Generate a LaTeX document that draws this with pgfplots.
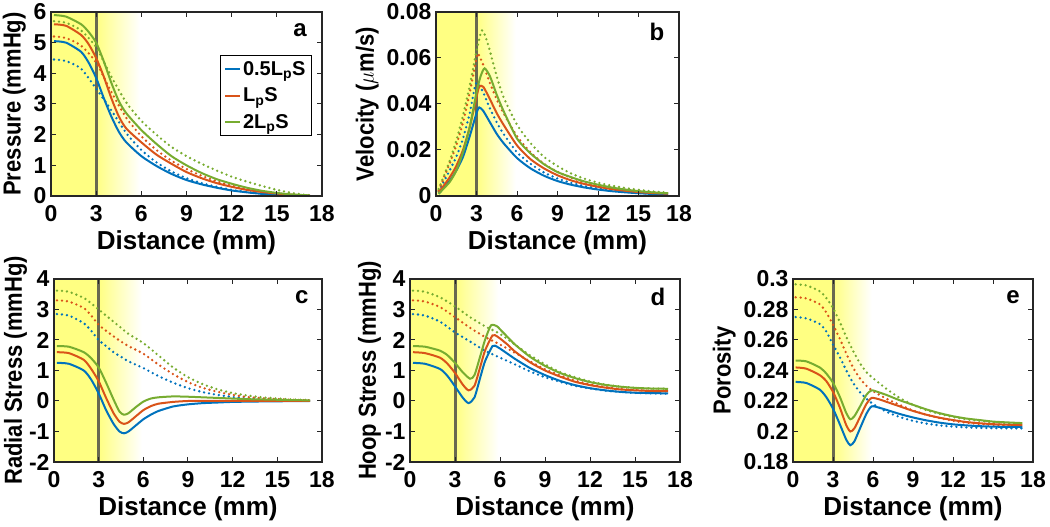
\documentclass[border=0pt]{standalone}
\usepackage{fontspec}
\setmainfont{Liberation Sans}
\usepackage{graphicx}
\usepackage{pgfplots}
\pgfplotsset{compat=1.18}
\definecolor{mblue}{rgb}{0,0.447,0.741}
\definecolor{mred}{rgb}{0.85,0.325,0.098}
\definecolor{mgreen}{rgb}{0.466,0.674,0.188}
\definecolor{yel}{RGB}{255,255,130}
\definecolor{vline}{RGB}{105,105,80}
\newcommand{\yl}[1]{\scalebox{1}[1.12]{#1}}
\pgfplotsset{
  base/.style={
    scale only axis, axis on top,
    xmin=0,xmax=18, xtick={0,3,...,18},
    tick label style={font=\bfseries\fontsize{23}{23}\selectfont},
    xlabel style={font=\bfseries\fontsize{26}{26}\selectfont, yshift=-2pt},
    ylabel style={font=\bfseries\fontsize{22}{22}\selectfont, yshift=1pt},
    /pgf/number format/assume math mode=true,
    xlabel={Distance (mm)},
    axis line style={line width=1.2pt, black!85},
    major tick length=5pt,
    every tick/.style={black!85, line width=1pt},
    xticklabel style={yshift=-6pt},
    yticklabel style={xshift=-1pt},
    clip=true,
  },
  sol/.style={line width=2pt, smooth, tension=0.4},
  dot/.style={line width=2.6pt, line cap=round, dash pattern=on 0pt off 5pt, smooth, tension=0.4, forget plot},
}
\newcommand{\bg}[2]{%
  \fill[yel] (axis cs:0,#1) rectangle (axis cs:3,#2);
  \shade[left color=yel,right color=white] (axis cs:3,#1) rectangle (axis cs:5.9,#2);
  \draw[vline, line width=3pt] (axis cs:3,#1) -- (axis cs:3,#2);}
\newcommand{\plabel}[3]{\node[font=\bfseries\fontsize{24}{24}\selectfont] at (rel axis cs:#1,#2) {#3};}
\begin{document}
\begin{tikzpicture}
\path[use as bounding box] (0,0) rectangle (1050pt,527pt);
% ---------------- a
\begin{axis}[base, at={(51pt,515pt)}, anchor=north west, width=271pt, height=184pt,
  ymin=0, ymax=6, ytick={0,...,6}, ylabel={\yl{Pressure (mmHg)}},
  legend style={at={(0.963,0.766)}, anchor=north east, font=\bfseries\fontsize{20}{20}\selectfont,
    draw=black, line width=1pt, row sep=7pt, inner sep=4pt},
  legend cell align=left,
  legend image code/.code={\draw[#1] (0pt,0pt) -- (15pt,0pt);}]
\bg{0}{6}
\addplot[mblue,dot] coordinates {(0.2,4.45)(1,4.4)(2,4.15)(3,3.5)(4,2.8)(5,2.05)(6,1.5)(7,1.1)(8,0.8)(9,0.58)(10,0.42)(11,0.3)(12,0.2)(13,0.13)(14,0.08)(15,0.05)(16,0.02)(17.2,0.0)};
\addplot[mred,dot] coordinates {(0.2,5.2)(1,5.15)(2,4.9)(3,4.35)(4,3.4)(5,2.55)(6,1.95)(7,1.5)(8,1.15)(9,0.88)(10,0.66)(11,0.48)(12,0.34)(13,0.23)(14,0.15)(15,0.08)(16,0.04)(17.2,0.01)};
\addplot[mgreen,dot] coordinates {(0.2,5.7)(1,5.65)(2,5.4)(3,4.85)(4,3.9)(5,3.05)(6,2.45)(7,2.0)(8,1.6)(9,1.3)(10,1.05)(11,0.83)(12,0.63)(13,0.47)(14,0.33)(15,0.2)(16,0.1)(17.2,0.02)};
\addplot[mblue,sol] coordinates {(0.2,5.05)(1,5.0)(2,4.7)(2.5,4.35)(3,3.85)(3.5,3.2)(4,2.6)(4.5,2.1)(5,1.75)(6,1.3)(7,0.98)(8,0.72)(9,0.52)(10,0.38)(11,0.27)(12,0.18)(13,0.12)(14,0.07)(15,0.04)(16,0.02)(17.2,0.0)};
\addlegendentry{0.5L\textsubscript{p}S}
\addplot[mred,sol] coordinates {(0.2,5.6)(1,5.55)(2,5.25)(2.5,4.95)(3,4.5)(3.5,3.9)(4,3.2)(4.5,2.6)(5,2.2)(6,1.75)(7,1.35)(8,1.05)(9,0.78)(10,0.58)(11,0.42)(12,0.3)(13,0.2)(14,0.13)(15,0.08)(16,0.04)(17.2,0.01)};
\addlegendentry{L\textsubscript{p}S}
\addplot[mgreen,sol] coordinates {(0.2,5.9)(1,5.85)(2,5.6)(2.5,5.35)(3,5.0)(3.5,4.4)(4,3.7)(4.5,3.1)(5,2.7)(6,2.15)(7,1.7)(8,1.3)(9,1.0)(10,0.75)(11,0.55)(12,0.4)(13,0.27)(14,0.17)(15,0.1)(16,0.05)(17.2,0.02)};
\addlegendentry{2L\textsubscript{p}S}
\plabel{0.919}{0.9}{a}
\end{axis}
% ---------------- b
\begin{axis}[base, at={(436pt,515pt)}, anchor=north west, width=243pt, height=184pt,
  ymin=0, ymax=0.08, ytick={0,0.02,0.04,0.06,0.08}, yticklabels={0,0.02,0.04,0.06,0.08},
  scaled y ticks=false, ylabel={\yl{Velocity ($\mu$m/s)}}]
\bg{0}{0.08}
\addplot[mblue,dot] coordinates {(0.2,0.002)(1,0.011)(1.5,0.017)(2,0.025)(2.5,0.036)(2.9,0.048)(3.1,0.049)(3.5,0.045)(4,0.038)(4.5,0.032)(5,0.027)(6,0.019)(7,0.014)(8,0.0102)(9,0.0076)(10,0.0057)(11,0.0043)(12,0.0033)(13,0.0025)(14,0.0019)(15,0.0014)(16,0.001)(17.2,0.0008)};
\addplot[mred,dot] coordinates {(0.2,0.0025)(1,0.014)(1.5,0.022)(2,0.032)(2.5,0.045)(3,0.06)(3.1,0.062)(3.5,0.057)(4,0.049)(4.5,0.042)(5,0.036)(6,0.026)(7,0.019)(8,0.014)(9,0.0105)(10,0.008)(11,0.006)(12,0.0046)(13,0.0035)(14,0.0027)(15,0.002)(16,0.0015)(17.2,0.001)};
\addplot[mgreen,dot] coordinates {(0.2,0.003)(1,0.015)(1.5,0.024)(2,0.035)(2.5,0.048)(3,0.063)(3.4,0.072)(3.8,0.067)(4.5,0.052)(5,0.043)(6,0.031)(7,0.023)(8,0.017)(9,0.013)(10,0.0098)(11,0.0075)(12,0.0058)(13,0.0045)(14,0.0035)(15,0.0027)(16,0.002)(17.2,0.0015)};
\addplot[mblue,sol] coordinates {(0.2,0.001)(1,0.0065)(1.5,0.011)(2,0.017)(2.5,0.026)(3,0.036)(3.2,0.0385)(3.5,0.037)(4,0.032)(4.5,0.027)(5,0.023)(6,0.0165)(7,0.012)(8,0.0088)(9,0.0065)(10,0.0049)(11,0.0037)(12,0.0028)(13,0.0021)(14,0.0016)(15,0.0012)(16,0.0009)(17.2,0.0007)};
\addplot[mred,sol] coordinates {(0.2,0.0015)(1,0.008)(1.5,0.013)(2,0.02)(2.5,0.03)(3,0.043)(3.2,0.0475)(3.5,0.0475)(4,0.042)(4.5,0.036)(5,0.031)(6,0.022)(7,0.016)(8,0.012)(9,0.009)(10,0.0068)(11,0.0052)(12,0.004)(13,0.003)(14,0.0023)(15,0.0017)(16,0.0013)(17.2,0.001)};
\addplot[mgreen,sol] coordinates {(0.2,0.001)(1,0.006)(1.5,0.011)(2,0.019)(2.5,0.03)(3,0.045)(3.3,0.052)(3.6,0.0555)(4,0.052)(4.5,0.044)(5,0.037)(6,0.025)(7,0.0185)(8,0.0138)(9,0.0104)(10,0.0082)(11,0.0063)(12,0.0049)(13,0.0037)(14,0.0028)(15,0.0021)(16,0.0016)(17.2,0.0012)};
\plabel{0.909}{0.89}{b}
\end{axis}
% ---------------- c
\begin{axis}[base, at={(54pt,248pt)}, anchor=north west, width=268pt, height=183pt,
  ymin=-2, ymax=4, ytick={-2,...,4}, yticklabels={-2,-1,0,1,2,3,4}, ylabel={\yl{Radial Stress (mmHg)}},
  ylabel shift=-6pt]
\bg{-2}{4}
\addplot[mblue,dot] coordinates {(0.2,2.85)(1,2.8)(2,2.55)(2.5,2.3)(3,2.0)(3.5,1.8)(4,1.6)(4.5,1.45)(5,1.3)(6,1.08)(7,0.82)(8,0.6)(9,0.42)(10,0.29)(11,0.2)(12,0.13)(13,0.09)(14,0.06)(15,0.04)(16,0.02)(17.2,0.01)};
\addplot[mred,dot] coordinates {(0.2,3.3)(1,3.26)(2,3.05)(2.5,2.8)(3,2.5)(3.5,2.3)(4,2.12)(4.5,1.95)(5,1.8)(6,1.55)(7,1.2)(8,0.88)(9,0.62)(10,0.43)(11,0.3)(12,0.2)(13,0.13)(14,0.09)(15,0.06)(16,0.04)(17.2,0.02)};
\addplot[mgreen,dot] coordinates {(0.2,3.62)(1,3.58)(2,3.38)(2.5,3.2)(3,3.0)(3.5,2.8)(4,2.6)(4.5,2.4)(5,2.2)(6,1.9)(7,1.5)(8,1.1)(9,0.78)(10,0.55)(11,0.38)(12,0.26)(13,0.18)(14,0.12)(15,0.08)(16,0.05)(17.2,0.03)};
\addplot[mblue,sol] coordinates {(0.2,1.25)(1,1.22)(2,1.0)(2.5,0.7)(3,0.25)(3.5,-0.3)(4,-0.75)(4.4,-1.0)(4.7,-1.06)(5,-1.0)(5.5,-0.8)(6,-0.6)(6.5,-0.45)(7,-0.33)(8,-0.18)(9,-0.11)(10,-0.07)(11,-0.05)(12,-0.03)(14,-0.015)(17.2,0.0)};
\addplot[mred,sol] coordinates {(0.2,1.6)(1,1.57)(2,1.35)(2.5,1.05)(3,0.65)(3.5,0.1)(4,-0.4)(4.4,-0.68)(4.7,-0.75)(5,-0.7)(5.5,-0.5)(6,-0.3)(6.5,-0.17)(7,-0.09)(8,-0.03)(9,0.0)(10,0.0)(12,0.0)(14,0.0)(17.2,0.0)};
\addplot[mgreen,sol] coordinates {(0.2,1.8)(1,1.78)(2,1.6)(2.5,1.4)(3,1.1)(3.5,0.6)(4,0.05)(4.4,-0.35)(4.7,-0.45)(5,-0.4)(5.5,-0.2)(6,-0.02)(6.5,0.08)(7,0.12)(8,0.15)(9,0.14)(10,0.12)(11,0.1)(12,0.08)(13,0.06)(14,0.05)(15,0.04)(16,0.03)(17.2,0.02)};
\plabel{0.925}{0.9}{c}
\end{axis}
% ---------------- d
\begin{axis}[base, at={(410pt,248pt)}, anchor=north west, width=270pt, height=183pt,
  ymin=-2, ymax=4, ytick={-2,...,4}, yticklabels={-2,-1,0,1,2,3,4}, ylabel={\yl{Hoop Stress (mmHg)}},
  ylabel shift=-4pt]
\bg{-2}{4}
\addplot[mblue,dot] coordinates {(0.2,2.85)(1,2.8)(2,2.6)(3,2.25)(4,1.95)(5,1.65)(6,1.42)(7,1.2)(8,0.97)(9,0.78)(10,0.63)(11,0.5)(12,0.41)(13,0.34)(14,0.3)(15,0.27)(16,0.25)(17.2,0.24)};
\addplot[mred,dot] coordinates {(0.2,3.3)(1,3.26)(2,3.08)(3,2.75)(4,2.4)(5,2.1)(6,1.85)(7,1.58)(8,1.3)(9,1.04)(10,0.84)(11,0.67)(12,0.55)(13,0.46)(14,0.4)(15,0.36)(16,0.34)(17.2,0.33)};
\addplot[mgreen,dot] coordinates {(0.2,3.62)(1,3.58)(2,3.4)(3,3.1)(4,2.75)(5,2.45)(6,2.2)(7,1.85)(8,1.5)(9,1.2)(10,0.95)(11,0.78)(12,0.64)(13,0.54)(14,0.47)(15,0.43)(16,0.41)(17.2,0.4)};
\addplot[mblue,sol] coordinates {(0.2,1.25)(1,1.22)(2,1.05)(2.5,0.82)(3,0.48)(3.5,0.12)(3.9,-0.07)(4.3,0.12)(4.7,0.8)(5,1.3)(5.5,1.8)(5.8,1.78)(6,1.72)(6.5,1.55)(7,1.38)(8,1.08)(9,0.85)(10,0.66)(11,0.52)(12,0.42)(13,0.35)(14,0.3)(15,0.27)(16,0.26)(17.2,0.25)};
\addplot[mred,sol] coordinates {(0.2,1.6)(1,1.57)(2,1.42)(2.5,1.22)(3,0.92)(3.5,0.55)(3.9,0.35)(4.3,0.5)(4.7,1.15)(5,1.65)(5.5,2.15)(5.8,2.12)(6,2.05)(6.5,1.85)(7,1.62)(8,1.27)(9,1.0)(10,0.8)(11,0.63)(12,0.52)(13,0.44)(14,0.38)(15,0.35)(16,0.33)(17.2,0.32)};
\addplot[mgreen,sol] coordinates {(0.2,1.8)(1,1.78)(2,1.65)(2.5,1.5)(3,1.25)(3.5,0.95)(4,0.73)(4.3,0.85)(4.7,1.5)(5,2.0)(5.4,2.48)(5.8,2.45)(6,2.35)(6.5,2.1)(7,1.85)(8,1.45)(9,1.15)(10,0.92)(11,0.75)(12,0.62)(13,0.53)(14,0.47)(15,0.43)(16,0.41)(17.2,0.4)};
\plabel{0.918}{0.9}{d}
\end{axis}
% ---------------- e
\begin{axis}[base, at={(793pt,248pt)}, anchor=north west, width=240pt, height=183pt,
  ymin=0.18, ymax=0.3, ytick={0.18,0.2,0.22,0.24,0.26,0.28,0.3},
  yticklabels={0.18,0.2,0.22,0.24,0.26,0.28,0.3}, ylabel={\yl{Porosity}}]
\bg{0.18}{0.3}
\addplot[mblue,dot] coordinates {(0.2,0.275)(1,0.2742)(2,0.2705)(2.5,0.2655)(3,0.257)(3.5,0.249)(4,0.24)(4.5,0.232)(5,0.226)(5.5,0.2215)(6,0.218)(7,0.213)(8,0.2095)(9,0.207)(10,0.2052)(11,0.204)(12,0.2032)(13,0.2027)(14,0.2024)(15,0.2022)(16,0.2021)(17.2,0.202)};
\addplot[mred,dot] coordinates {(0.2,0.288)(1,0.2873)(2,0.2835)(2.5,0.278)(3,0.27)(3.5,0.261)(4,0.251)(4.5,0.242)(5,0.235)(5.5,0.23)(6,0.2265)(7,0.2215)(8,0.2175)(9,0.2138)(10,0.211)(11,0.2088)(12,0.207)(13,0.2058)(14,0.2049)(15,0.2043)(16,0.204)(17.2,0.2038)};
\addplot[mgreen,dot] coordinates {(0.2,0.2965)(1,0.2958)(2,0.292)(2.5,0.2875)(3,0.281)(3.5,0.272)(4,0.262)(4.5,0.253)(5,0.245)(5.5,0.239)(6,0.235)(7,0.228)(8,0.222)(9,0.2175)(10,0.214)(11,0.2115)(12,0.2095)(13,0.208)(14,0.207)(15,0.206)(16,0.2055)(17.2,0.205)};
\addplot[mblue,sol] coordinates {(0.2,0.2325)(1,0.2318)(2,0.2275)(2.5,0.2225)(3,0.215)(3.5,0.205)(4,0.1945)(4.3,0.191)(4.6,0.1935)(5,0.2015)(5.5,0.2115)(5.9,0.2165)(6.5,0.2155)(7,0.2142)(8,0.2115)(9,0.2092)(10,0.2073)(11,0.2058)(12,0.2047)(13,0.204)(14,0.2035)(15,0.2032)(16,0.203)(17.2,0.203)};
\addplot[mred,sol] coordinates {(0.2,0.242)(1,0.2412)(2,0.237)(2.5,0.233)(3,0.226)(3.5,0.216)(4,0.204)(4.3,0.2)(4.6,0.202)(5,0.209)(5.5,0.218)(5.9,0.222)(6.5,0.221)(7,0.2195)(8,0.2165)(9,0.2135)(10,0.211)(11,0.209)(12,0.2075)(13,0.2062)(14,0.2054)(15,0.2048)(16,0.2045)(17.2,0.2042)};
\addplot[mgreen,sol] coordinates {(0.2,0.2465)(1,0.246)(2,0.242)(2.5,0.238)(3,0.232)(3.5,0.223)(4,0.212)(4.3,0.208)(4.6,0.21)(5,0.216)(5.5,0.224)(5.9,0.227)(6.5,0.2255)(7,0.224)(8,0.2205)(9,0.2175)(10,0.2145)(11,0.212)(12,0.21)(13,0.2085)(14,0.2075)(15,0.2065)(16,0.206)(17.2,0.2055)};
\plabel{0.917}{0.9}{e}
\end{axis}
\end{tikzpicture}
\end{document}
